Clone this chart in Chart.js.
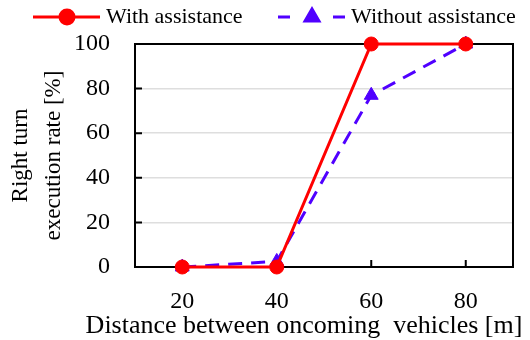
<!DOCTYPE html>
<html>
<head>
<meta charset="utf-8">
<script src="https://cdn.jsdelivr.net/npm/chart.js@4"></script>
<style>
    html, body { margin: 0; padding: 0; background: #fff; }
    #wrap { width: 530px; height: 340px; }
</style>
</head>
<body>
<div id="wrap"><canvas id="lineCanvas" width="530" height="340"></canvas></div>
<script>
    // 資料
    var distances = ["20", "40", "60", "80"];
    var withAssist = [0, 0, 100, 100];
    var withoutAssist = [0, 2.5, 77, 100];
    var yTicks = [0, 20, 40, 60, 80, 100];
    var xTitle = 'Distance between oncoming  vehicles [m]';

    var red = 'rgb(255, 0, 0)';
    var blue = 'rgb(80, 0, 255)';
    var font = "'Liberation Serif', 'Times New Roman', serif";

    // 外框 + 內向刻度 + x 軸標題
    var frame = {
        id: 'frame',
        beforeDatasetsDraw: function (chart) {
            var ctx = chart.ctx;
            var a = chart.chartArea;
            var x = chart.scales.x;
            var y = chart.scales.y;
            ctx.save();
            ctx.strokeStyle = '#000';
            ctx.lineWidth = 2;
            ctx.beginPath();
            yTicks.forEach(function (v) {
                var py = y.getPixelForValue(v);
                ctx.moveTo(a.left, py);
                ctx.lineTo(a.left + 7, py);
            });
            distances.forEach(function (d, i) {
                var px = x.getPixelForValue(i);
                ctx.moveTo(px, a.bottom);
                ctx.lineTo(px, a.bottom - 7);
            });
            ctx.stroke();
            ctx.strokeRect(a.left, a.top, a.right - a.left, a.bottom - a.top);
            // x 標題 (不壓縮)
            ctx.fillStyle = '#000';
            ctx.font = "26px " + font;
            ctx.textAlign = 'center';
            ctx.textBaseline = 'middle';
            ctx.fillText(xTitle, 304, 326);
            ctx.restore();
        }
    };

    // 圖例
    var legendLines = {
        id: 'legendLines',
        afterDraw: function (chart) {
            var ctx = chart.ctx;
            var items = [
                { x: 33, ds: chart.data.datasets[0] },
                { x: 278, ds: chart.data.datasets[1] }
            ];
            ctx.save();
            ctx.font = "22px " + font;
            ctx.textBaseline = 'middle';
            items.forEach(function (it) {
                var yy = 17;
                ctx.strokeStyle = it.ds.borderColor;
                ctx.lineWidth = it.ds.borderWidth;
                ctx.setLineDash(it.ds.borderDash ? [12, 43] : []);
                ctx.beginPath();
                ctx.moveTo(it.x, yy);
                ctx.lineTo(it.x + 67, yy);
                ctx.stroke();
                ctx.setLineDash([]);
                ctx.fillStyle = it.ds.backgroundColor;
                Chart.helpers.drawPoint(ctx, {
                    pointStyle: it.ds.pointStyle,
                    radius: it.ds.pointRadius,
                    borderWidth: 1
                }, it.x + 34, yy);
                ctx.fillStyle = '#000';
                ctx.fillText(it.ds.label, it.x + 73, yy);
            });
            ctx.restore();
        }
    };

    window.onload = function () {
        var ctx = document.getElementById("lineCanvas").getContext("2d");
        window.myLine = new Chart(ctx, {
            type: 'line',
            data: {
                labels: distances,
                datasets: [{
                    label: 'With assistance',
                    data: withAssist,
                    borderColor: red,
                    backgroundColor: red,
                    borderWidth: 3,
                    pointStyle: 'circle',
                    pointRadius: 7,
                    pointBorderWidth: 1,
                    clip: false
                }, {
                    label: 'Without assistance',
                    data: withoutAssist,
                    borderColor: blue,
                    backgroundColor: blue,
                    borderWidth: 3,
                    borderDash: [14, 9],
                    pointStyle: 'triangle',
                    pointRadius: 8,
                    pointBorderWidth: 1,
                    clip: false
                }]
            },
            options: {
                responsive: false,
                animation: false,
                layout: { padding: { top: 44, right: 17, left: 0, bottom: 0 } },
                plugins: {
                    legend: { display: false },
                    tooltip: { enabled: false }
                },
                scales: {
                    x: {
                        type: 'category',
                        offset: true,
                        grid: { display: false, drawTicks: false },
                        border: { display: false },
                        ticks: {
                            color: '#000',
                            padding: 20,
                            font: { family: font, size: 24 }
                        },
                        title: { display: false },
                        afterFit: function (scale) { scale.height = 73; }
                    },
                    y: {
                        min: 0,
                        max: 100,
                        afterBuildTicks: function (scale) {
                            scale.ticks = yTicks.map(function (v) { return { value: v }; });
                        },
                        grid: {
                            color: function (c) {
                                return (c.tick.value === 0 || c.tick.value === 100) ? 'rgba(0,0,0,0)' : '#dedede';
                            },
                            lineWidth: 1.5,
                            drawTicks: false
                        },
                        border: { display: false },
                        ticks: {
                            color: '#000',
                            padding: 25,
                            font: { family: font, size: 24 }
                        },
                        title: {
                            display: true,
                            text: ['Right turn', 'execution rate [%]'],
                            color: '#000',
                            padding: { top: 4, bottom: 0 },
                            font: { family: font, size: 23, lineHeight: 1.45 }
                        },
                        afterFit: function (scale) { scale.width = 135; }
                    }
                }
            },
            plugins: [frame, legendLines]
        });
    };
</script>
</body>
</html>
